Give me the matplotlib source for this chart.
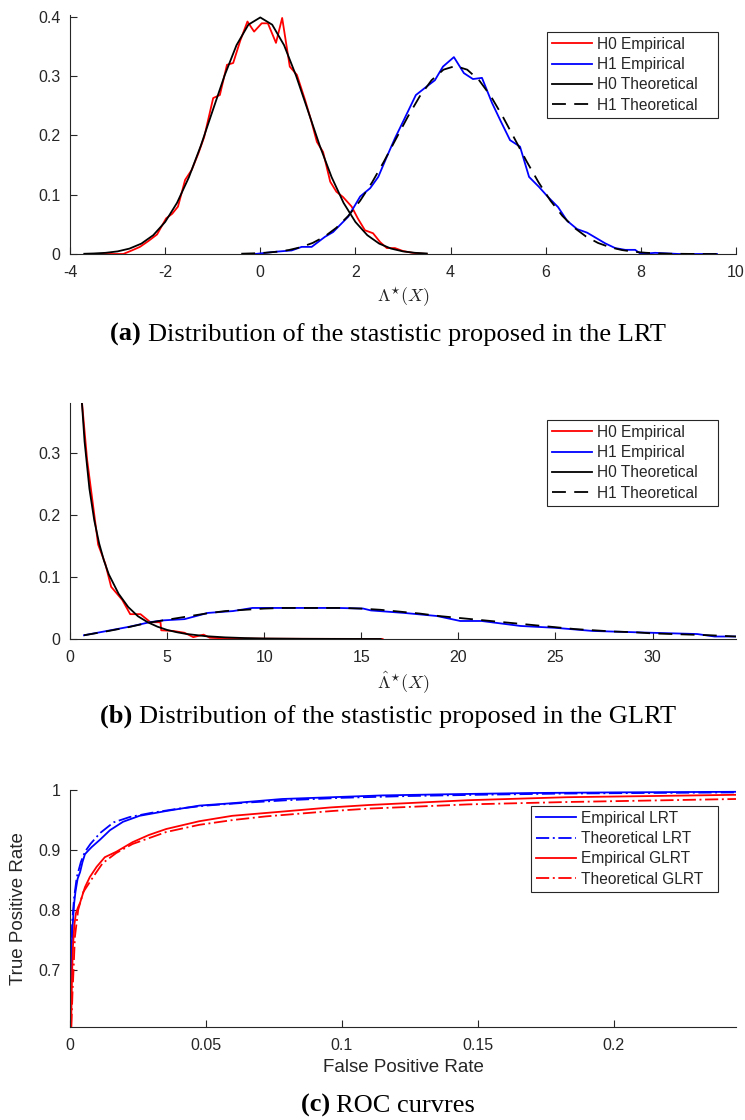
import matplotlib
matplotlib.use("Agg")
import matplotlib.pyplot as plt

# ---------------- data ----------------
# (a) LRT statistic
lrt_h0_emp_x = [-3.68, -2.88, -2.7, -2.53, -2.35, -2.17, -1.98, -1.85, -1.73, -1.58, -1.44, -1.3,
                -1.18, -0.99, -0.85, -0.70, -0.57, -0.42, -0.27, -0.13, 0.03, 0.16, 0.33, 0.46,
                0.62, 0.77, 0.94, 1.07, 1.19, 1.32, 1.47, 1.6, 1.74, 1.92, 2.05, 2.2, 2.37, 2.52,
                2.66, 2.83, 3.0, 3.2, 3.5]
lrt_h0_emp_y = [0.0, 0.0, 0.006, 0.012, 0.022, 0.033, 0.06, 0.068, 0.08, 0.125, 0.142, 0.17,
                0.197, 0.263, 0.268, 0.319, 0.322, 0.36, 0.392, 0.375, 0.389, 0.389, 0.356, 0.398,
                0.316, 0.302, 0.26, 0.225, 0.189, 0.172, 0.122, 0.105, 0.096, 0.08, 0.06, 0.04,
                0.035, 0.02, 0.01, 0.01, 0.005, 0.002, 0.0]

lrt_h1_emp_x = [-0.11, 0.35, 0.66, 0.87, 1.08, 1.36, 1.53, 1.85, 2.1, 2.31, 2.48, 2.66, 2.83,
                3.0, 3.27, 3.46, 3.67, 3.84, 4.07, 4.28, 4.47, 4.66, 4.87, 5.06, 5.25, 5.46,
                5.65, 5.86, 6.05, 6.26, 6.45, 6.66, 6.87, 7.06, 7.25, 7.46, 7.67, 7.88, 8.0,
                8.3, 8.8, 9.6]
lrt_h1_emp_y = [0.0, 0.004, 0.006, 0.012, 0.012, 0.029, 0.037, 0.063, 0.097, 0.111, 0.13, 0.164,
                0.195, 0.223, 0.268, 0.28, 0.293, 0.316, 0.332, 0.305, 0.295, 0.297, 0.255, 0.223,
                0.192, 0.181, 0.13, 0.113, 0.096, 0.079, 0.056, 0.042, 0.036, 0.027, 0.018, 0.01,
                0.007, 0.007, 0.0, 0.002, 0.0, 0.0]

lrt_h0_th_x = [-3.7, -3.5, -3.25, -3.0, -2.75, -2.5, -2.25, -2.0, -1.75, -1.5, -1.25, -1.0, -0.75,
               -0.5, -0.25, 0.0, 0.25, 0.5, 0.75, 1.0, 1.25, 1.5, 1.75, 2.0, 2.25, 2.5, 2.75,
               3.0, 3.25, 3.5]
lrt_h0_th_y = [0.0004, 0.0009, 0.002, 0.0044, 0.0091, 0.0175, 0.0317, 0.054, 0.0863, 0.1295,
               0.1826, 0.242, 0.3011, 0.3521, 0.3867, 0.3989, 0.3867, 0.3521, 0.3011, 0.242,
               0.1826, 0.1295, 0.0863, 0.054, 0.0317, 0.0175, 0.0091, 0.0044, 0.002, 0.0009]

lrt_h1_th_x = [-0.4, -0.15, 0.1, 0.35, 0.6, 0.85, 1.1, 1.35, 1.6, 1.85, 2.1, 2.35, 2.6, 2.85,
               3.1, 3.35, 3.6, 3.85, 4.1, 4.35, 4.6, 4.85, 5.1, 5.35, 5.6, 5.85, 6.1, 6.35,
               6.6, 6.85, 7.1, 7.35, 7.6, 7.85, 8.1, 8.35, 8.6, 8.85, 9.1, 9.35, 9.6]
lrt_h1_th_y = [0.0005, 0.0011, 0.0021, 0.0038, 0.0067, 0.0114, 0.0186, 0.0293, 0.0443, 0.0643,
               0.0899, 0.1208, 0.156, 0.1938, 0.2313, 0.2656, 0.293, 0.3108, 0.317, 0.3108,
               0.293, 0.2656, 0.2313, 0.1938, 0.156, 0.1208, 0.0899, 0.0643, 0.0443, 0.0293,
               0.0186, 0.0114, 0.0067, 0.0038, 0.0021, 0.0011, 0.0005, 0.0003, 0.0001, 0.0, 0.0]

# (b) GLRT statistic
glrt_h0_emp_x = [0.55, 0.62, 0.88, 1.45, 1.81, 2.12, 2.69, 3.1, 3.63, 4.14, 4.66, 4.7, 5.3, 5.9,
                 6.35, 6.88, 7.2, 8.0, 10.0, 12.0, 14.0, 16.1]
glrt_h0_emp_y = [0.42, 0.38, 0.289, 0.152, 0.122, 0.084, 0.063, 0.04, 0.04, 0.027, 0.027, 0.014,
                 0.013, 0.01, 0.003, 0.007, 0.002, 0.001, 0.0005, 0.0003, 0.0002, 0.0]

glrt_h1_emp_x = [0.72, 3.1, 4.1, 4.8, 5.9, 7.1, 8.4, 9.4, 11.9, 13.8, 15.1, 15.5, 17.2, 18.9, 20.1,
                 21.2, 23.2, 25.0, 26.9, 30.0, 32.3, 33.2, 34.3]
glrt_h1_emp_y = [0.006, 0.02, 0.027, 0.03, 0.032, 0.042, 0.045, 0.05, 0.05, 0.05, 0.049, 0.046,
                 0.042, 0.037, 0.029, 0.029, 0.021, 0.018, 0.013, 0.01, 0.008, 0.004, 0.004]

glrt_h0_th_x = [0.55, 0.75, 1.0, 1.25, 1.5, 1.75, 2.0, 2.5, 3.0, 3.5, 4.0, 4.5, 5.0, 5.5, 6.0,
                7.0, 8.0, 9.0, 10.0, 12.0, 14.0, 16.0]
glrt_h0_th_y = [0.409, 0.318, 0.242, 0.191, 0.154, 0.126, 0.104, 0.073, 0.0514, 0.0366, 0.027,
                0.0199, 0.0146, 0.0109, 0.0081, 0.0045, 0.0026, 0.0015, 0.0008, 0.0003, 0.0001,
                0.00005]

glrt_h1_th_x = [0.72, 2, 3, 4, 5, 6, 7, 8, 9, 10, 11, 12, 13, 14, 15, 16, 17, 18, 19, 20, 21, 22,
                23, 24, 25, 26, 27, 28, 29, 30, 31, 32, 33, 34.3]
glrt_h1_th_y = [0.006, 0.013, 0.019, 0.026, 0.031, 0.036, 0.041, 0.045, 0.047, 0.049, 0.05, 0.05,
                0.05, 0.05, 0.049, 0.047, 0.044, 0.041, 0.037, 0.034, 0.031, 0.028, 0.025, 0.022,
                0.019, 0.016, 0.014, 0.012, 0.011, 0.009, 0.008, 0.007, 0.006, 0.004]

# (c) ROC curves
roc_lrt_emp_fpr = [0.0, 0.0003, 0.0006, 0.001, 0.0015, 0.002, 0.0028, 0.0037, 0.0046, 0.0055,
                   0.0065, 0.008, 0.011, 0.0147, 0.0195, 0.0256, 0.0354, 0.0476, 0.0597, 0.078,
                   0.0965, 0.115, 0.14, 0.17, 0.2, 0.245]
roc_lrt_emp_tpr = [0.605, 0.68, 0.74, 0.775, 0.81, 0.83, 0.852, 0.863, 0.88, 0.893, 0.898, 0.905,
                   0.917, 0.933, 0.947, 0.957, 0.965, 0.974, 0.978, 0.985, 0.988, 0.991, 0.993,
                   0.995, 0.996, 0.997]

roc_lrt_th_fpr = [0.0, 0.0003, 0.0008, 0.0015, 0.0025, 0.004, 0.0055, 0.0075, 0.011, 0.016, 0.022,
                  0.03, 0.04, 0.05, 0.065, 0.08, 0.1, 0.125, 0.15, 0.18, 0.21, 0.245]
roc_lrt_th_tpr = [0.605, 0.70, 0.78, 0.82, 0.855, 0.88, 0.897, 0.91, 0.928, 0.946, 0.955, 0.962,
                  0.969, 0.974, 0.979, 0.983, 0.987, 0.99, 0.992, 0.994, 0.995, 0.996]

roc_glrt_emp_fpr = [0.0004, 0.0008, 0.0011, 0.0016, 0.0022, 0.003, 0.0037, 0.0046, 0.0055, 0.0073,
                    0.0098, 0.0128, 0.017, 0.023, 0.029, 0.0354, 0.0476, 0.0597, 0.078, 0.096,
                    0.11, 0.1465, 0.183, 0.215, 0.245]
roc_glrt_emp_tpr = [0.605, 0.70, 0.74, 0.775, 0.795, 0.805, 0.812, 0.825, 0.838, 0.855, 0.872,
                    0.888, 0.897, 0.913, 0.925, 0.935, 0.948, 0.957, 0.964, 0.971, 0.975, 0.983,
                    0.988, 0.99, 0.992]

roc_glrt_th_fpr = [0.0005, 0.0009, 0.0013, 0.0018, 0.003, 0.0049, 0.0085, 0.012, 0.017, 0.023,
                   0.0354, 0.0476, 0.06, 0.072, 0.0965, 0.11, 0.1465, 0.183, 0.245]
roc_glrt_th_tpr = [0.605, 0.66, 0.70, 0.755, 0.80, 0.83, 0.855, 0.878, 0.895, 0.91, 0.93, 0.942,
                   0.95, 0.956, 0.965, 0.969, 0.976, 0.98, 0.985]

dist_labels = ["H0 Empirical", "H1 Empirical", "H0 Theoretical", "H1 Theoretical"]
roc_labels = ["Empirical LRT", "Theoretical LRT", "Empirical GLRT", "Theoretical GLRT"]

# ---------------- style ----------------
plt.rcParams["font.family"] = ["Liberation Sans", "DejaVu Sans"]
plt.rcParams["mathtext.fontset"] = "cm"
plt.rcParams["axes.unicode_minus"] = False
plt.rcParams["lines.scale_dashes"] = False

AX_COLOR = "#262626"
LW = 1.3
DASHED = (0, (10, 6))
DASHDOT = (0, (9.5, 2.6, 1.4, 2.6))

W, H = 745, 1120
fig = plt.figure(figsize=(W / 100, H / 100), dpi=100)


def px_axes(left, top, right, bottom):
    return fig.add_axes([left / W, 1 - bottom / H, (right - left) / W, (bottom - top) / H])


def style_axes(ax):
    for side in ("top", "right"):
        ax.spines[side].set_visible(False)
    for side in ("left", "bottom"):
        ax.spines[side].set_color(AX_COLOR)
        ax.spines[side].set_linewidth(0.8)
    ax.tick_params(direction="in", length=5, width=0.8, color=AX_COLOR,
                   labelcolor=AX_COLOR, labelsize=11.5)
    ax.tick_params(axis="x", pad=8)
    ax.tick_params(axis="y", pad=7)


def add_legend(ax, handles, labels, left, top, width):
    leg = ax.legend(handles, labels, loc="upper left", mode="expand",
                    bbox_to_anchor=(left / W, 1 - top / H, width / W, 0.001),
                    bbox_transform=fig.transFigure, borderaxespad=0, fontsize=11.2,
                    frameon=True, fancybox=False, framealpha=1, edgecolor=AX_COLOR,
                    borderpad=0.32, labelspacing=0.34, handlelength=2.6, handletextpad=0.3)
    leg.get_frame().set_linewidth(0.8)
    for t in leg.get_texts():
        t.set_color(AX_COLOR)
    return leg


def caption(y_base, tag, rest, cx=388):
    r = fig.canvas.get_renderer()
    t1 = fig.text(0, 1 - y_base / H, tag + " ", family=["Liberation Serif"], weight="bold",
                  fontsize=19, va="baseline", ha="left")
    t2 = fig.text(0, 1 - y_base / H, rest, family=["Liberation Serif"],
                  fontsize=19, va="baseline", ha="left")
    w1 = t1.get_window_extent(r).width
    w2 = t2.get_window_extent(r).width
    x0 = cx - (w1 + w2) / 2
    t1.set_x(x0 / W)
    t2.set_x((x0 + w1) / W)


# ---------------- (a) ----------------
ax1 = px_axes(70, 15, 736, 254)
h1, = ax1.plot(lrt_h0_emp_x, lrt_h0_emp_y, color="red", lw=LW)
h2, = ax1.plot(lrt_h1_emp_x, lrt_h1_emp_y, color="blue", lw=LW)
h3, = ax1.plot(lrt_h0_th_x, lrt_h0_th_y, color="black", lw=LW)
h4, = ax1.plot(lrt_h1_th_x, lrt_h1_th_y, color="black", lw=LW, linestyle=DASHED)
ax1.set_xlim(-4, 10)
ax1.set_ylim(0, 0.403)
ax1.set_xticks(range(-4, 11, 2))
ax1.set_yticks([0, 0.1, 0.2, 0.3, 0.4])
ax1.set_yticklabels(["0", "0.1", "0.2", "0.3", "0.4"])
style_axes(ax1)
ax1.set_xlabel(r"$\Lambda^{\star}(X)$", fontsize=13, color=AX_COLOR)
ax1.xaxis.label.set_va("center")
ax1.xaxis.set_label_coords(0.5, (254 - 297) / (254 - 15))
add_legend(ax1, [h1, h2, h3, h4], dist_labels, 547, 33, 171)
caption(341, "(a)", "Distribution of the stastistic proposed in the LRT")

# ---------------- (b) ----------------
ax2 = px_axes(70, 403, 736, 639)
g1, = ax2.plot(glrt_h0_emp_x, glrt_h0_emp_y, color="red", lw=LW)
g2, = ax2.plot(glrt_h1_emp_x, glrt_h1_emp_y, color="blue", lw=LW)
g3, = ax2.plot(glrt_h0_th_x, glrt_h0_th_y, color="black", lw=LW)
g4, = ax2.plot(glrt_h1_th_x, glrt_h1_th_y, color="black", lw=LW, linestyle=DASHED)
ax2.set_xlim(0, 34.3)
ax2.set_ylim(0, 0.38)
ax2.set_xticks(range(0, 31, 5))
ax2.set_yticks([0, 0.1, 0.2, 0.3])
ax2.set_yticklabels(["0", "0.1", "0.2", "0.3"])
style_axes(ax2)
ax2.set_xlabel(r"$\hat{\Lambda}^{\star}(X)$", fontsize=13, color=AX_COLOR)
ax2.xaxis.label.set_va("center")
ax2.xaxis.set_label_coords(0.5, (639 - 682) / (639 - 403))
add_legend(ax2, [g1, g2, g3, g4], dist_labels, 547, 421, 171)
caption(723, "(b)", "Distribution of the stastistic proposed in the GLRT")

# ---------------- (c) ----------------
ax3 = px_axes(70, 790, 736, 1027)
r1, = ax3.plot(roc_lrt_emp_fpr, roc_lrt_emp_tpr, color="blue", lw=LW)
r2, = ax3.plot(roc_lrt_th_fpr, roc_lrt_th_tpr, color="blue", lw=LW, linestyle=DASHDOT)
r3, = ax3.plot(roc_glrt_emp_fpr, roc_glrt_emp_tpr, color="red", lw=LW)
r4, = ax3.plot(roc_glrt_th_fpr, roc_glrt_th_tpr, color="red", lw=LW, linestyle=DASHDOT)
ax3.set_xlim(0, 0.245)
ax3.set_ylim(0.605, 1.0)
ax3.set_xticks([0, 0.05, 0.1, 0.15, 0.2])
ax3.set_xticklabels(["0", "0.05", "0.1", "0.15", "0.2"])
ax3.set_yticks([0.7, 0.8, 0.9, 1.0])
ax3.set_yticklabels(["0.7", "0.8", "0.9", "1"])
style_axes(ax3)
ax3.set_xlabel("False Positive Rate", fontsize=13.5, color=AX_COLOR)
ax3.xaxis.label.set_va("center")
ax3.xaxis.set_label_coords(0.5, (1027 - 1068) / (1027 - 790))
ax3.set_ylabel("True Positive Rate", fontsize=13.5, color=AX_COLOR)
ax3.yaxis.label.set_va("center")
ax3.yaxis.set_label_coords((19 - 70) / (736 - 70), 0.5)
add_legend(ax3, [r1, r2, r3, r4], roc_labels, 531, 807, 187)
caption(1112, "(c)", "ROC curvres")

fig.savefig("out.png", dpi=100)
